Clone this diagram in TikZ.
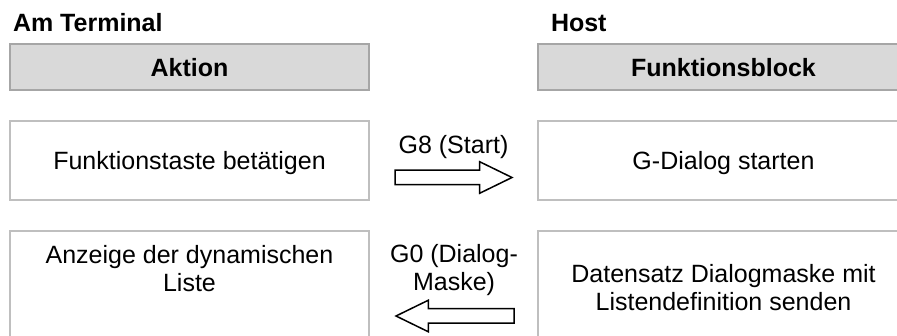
\documentclass[tikz,border=0pt]{standalone}
\usepackage{fontspec}
\setmainfont{Liberation Sans}
\usetikzlibrary{shapes.arrows}
\definecolor{headfill}{HTML}{D9D9D9}
\definecolor{headline}{HTML}{A6A6A6}
\definecolor{boxline}{HTML}{BFBFBF}
\begin{document}
\begin{tikzpicture}[x=1pt,y=-1pt,
  every node/.style={font=\fontsize{25}{28}\selectfont, inner sep=0pt, outer sep=0pt},
  headbox/.style={draw=headline, fill=headfill, line width=1.2pt,
    minimum height=46pt, font=\fontsize{25}{28}\selectfont\bfseries, text depth=0pt},
  stepbox/.style={draw=boxline, fill=white, line width=1.2pt, align=center, text depth=0pt},
  title/.style={font=\fontsize{25}{28}\selectfont\bfseries, anchor=base west},
  msg/.style={align=center, text depth=0pt},
  flowarrow/.style={single arrow, draw=black, fill=white, line width=1.5pt,
    minimum width=30pt, single arrow head extend=8.5pt, inner sep=6.5pt,
    single arrow tip angle=52, anchor=tail}
]
\useasboundingbox (0,0) rectangle (897,336);
\clip (0,0) rectangle (897,336);

% column headings
\node[title] (term) at (13,32) {Am Terminal};
\node[title] (host) at (551,32) {Host};
\node[headbox, minimum width=359pt] (aktion) at (189.5,67) {Aktion};
\node[headbox, minimum width=371pt] (fblock) at (723.5,67) {Funktionsblock};

% first exchange
\node[stepbox, minimum width=359pt, minimum height=79pt] (taste) at (189.5,160.5) {Funktionstaste betätigen};
\node[stepbox, minimum width=371pt, minimum height=79pt] (start) at (723.5,160.5) {G-Dialog starten};
\node[msg] (g8) at (453.5,144.5) {G8 (Start)};
\node[flowarrow, minimum height=117pt] (a1) at (395,177.5) {};

% second exchange
\node[stepbox, minimum width=359pt, minimum height=112pt] (liste) at (189.5,287) {};
\node[msg] (listetext) at (189.5,268.5) {Anzeige der dynamischen\\Liste};
\node[stepbox, minimum width=371pt, minimum height=112pt] (maske) at (723.5,287) {Datensatz Dialogmaske mit\\Listendefinition senden};
\node[msg] (g0) at (454,267.5) {G0 (Dialog-\\Maske)};
\node[flowarrow, minimum height=118pt, shape border rotate=180] (a2) at (514,316) {};
\end{tikzpicture}
\end{document}
